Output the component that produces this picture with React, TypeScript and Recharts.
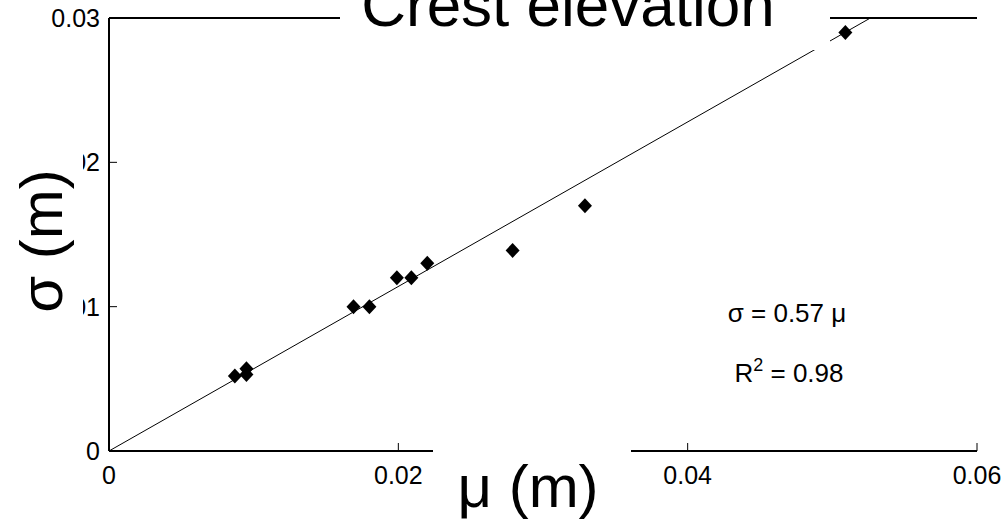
import { ScatterChart, Scatter, XAxis, YAxis, ReferenceLine } from 'recharts'

const muValues = [0.0087, 0.0095, 0.0095, 0.0169, 0.018, 0.0199, 0.0209, 0.022, 0.0279, 0.0329, 0.0509]
const sigmaValues = [0.0052, 0.0057, 0.0053, 0.01, 0.01, 0.012, 0.012, 0.013, 0.0139, 0.017, 0.029]
const xTicks = [0, 0.02, 0.04, 0.06]
const yTicks = [0, 0.01, 0.02, 0.03]
const slope = 0.57
const rSquared = 0.98

const W = 1004
const H = 523
const font = '"Liberation Sans", Arial, sans-serif'

const fmt = (v: number) => (v === 0 ? '0' : v.toFixed(2))

function XTick({ x, y, payload }: any) {
  return (
    <g>
      <line x1={x} y1={y} x2={x} y2={y - 8} stroke="#000" strokeWidth={1} />
      <text x={x} y={y + 33} textAnchor="middle" fontSize={25} fill="#000">
        {fmt(payload.value)}
      </text>
    </g>
  )
}

function YTick({ x, y, payload }: any) {
  return (
    <g>
      <line x1={x} y1={y} x2={x + 8} y2={y} stroke="#000" strokeWidth={1} />
      <text x={x - 9} y={y + 9} textAnchor="end" fontSize={25} fill="#000">
        {fmt(payload.value)}
      </text>
    </g>
  )
}

function RightTick({ x, y }: any) {
  return <line x1={x} y1={y} x2={x - 10} y2={y} stroke="#000" strokeWidth={1} />
}

function Diamond({ cx, cy }: any) {
  return (
    <polygon
      points={`${cx},${cy - 7.5} ${cx + 7},${cy} ${cx},${cy + 7.5} ${cx - 7},${cy}`}
      fill="#000"
    />
  )
}

export default function App() {
  const data = muValues.map((mu, i) => ({ mu, sigma: sigmaValues[i] }))

  return (
    <div style={{ position: 'absolute', left: 0, top: 0, width: W, height: H, background: '#fff', fontFamily: font }}>
      <ScatterChart width={W} height={H} margin={{ top: 18, right: 27, bottom: 0, left: 0 }}>
        <XAxis
          type="number"
          dataKey="mu"
          domain={[0, 0.06]}
          ticks={xTicks}
          height={72}
          tickSize={0}
          tickMargin={0}
          tick={<XTick />}
          axisLine={{ stroke: '#000', strokeWidth: 2 }}
          allowDataOverflow
        />
        <YAxis
          type="number"
          dataKey="sigma"
          domain={[0, 0.03]}
          ticks={yTicks}
          width={109}
          tickSize={0}
          tickMargin={0}
          tick={<YTick />}
          axisLine={{ stroke: '#000', strokeWidth: 2 }}
          allowDataOverflow
        />
        <YAxis
          yAxisId="right"
          orientation="right"
          type="number"
          domain={[0, 0.03]}
          ticks={yTicks}
          width={0}
          tickSize={0}
          tickMargin={0}
          tick={<RightTick />}
          axisLine={{ stroke: '#000', strokeWidth: 2 }}
        />
        <ReferenceLine y={0.03} stroke="#000" strokeWidth={2} />
        <ReferenceLine
          segment={[
            { x: 0, y: 0 },
            { x: 0.03 / slope, y: 0.03 },
          ]}
          stroke="#000"
          strokeWidth={1}
        />
        <Scatter data={data} shape={<Diamond />} isAnimationActive={false} />
      </ScatterChart>

      <svg width={W} height={H} style={{ position: 'absolute', left: 0, top: 0, pointerEvents: 'none' }}>
        {/* title */}
        <rect x={340} y={0} width={490} height={50} fill="#fff" />
        <text x={568} y={26} textAnchor="middle" fontSize={62} fill="#000">
          Crest elevation
        </text>
        {/* y label */}
        <rect x={0} y={140} width={83} height={190} fill="#fff" />
        <text x={62} y={241} textAnchor="middle" fontSize={60} fill="#000" transform="rotate(-90 62 241)">
          σ (m)
        </text>
        {/* x label */}
        <rect x={433} y={447} width={198} height={76} fill="#fff" />
        <text x={528} y={507} textAnchor="middle" fontSize={60} fill="#000">
          μ (m)
        </text>
        {/* fit annotation */}
        <text x={787} y={322} textAnchor="middle" fontSize={26} fill="#000">
          σ = {slope} μ
        </text>
        <text x={789} y={382} textAnchor="middle" fontSize={26} fill="#000">
          R<tspan dy={-11} fontSize={18}>2</tspan>
          <tspan dy={11}> = {rSquared}</tspan>
        </text>
      </svg>
    </div>
  )
}
